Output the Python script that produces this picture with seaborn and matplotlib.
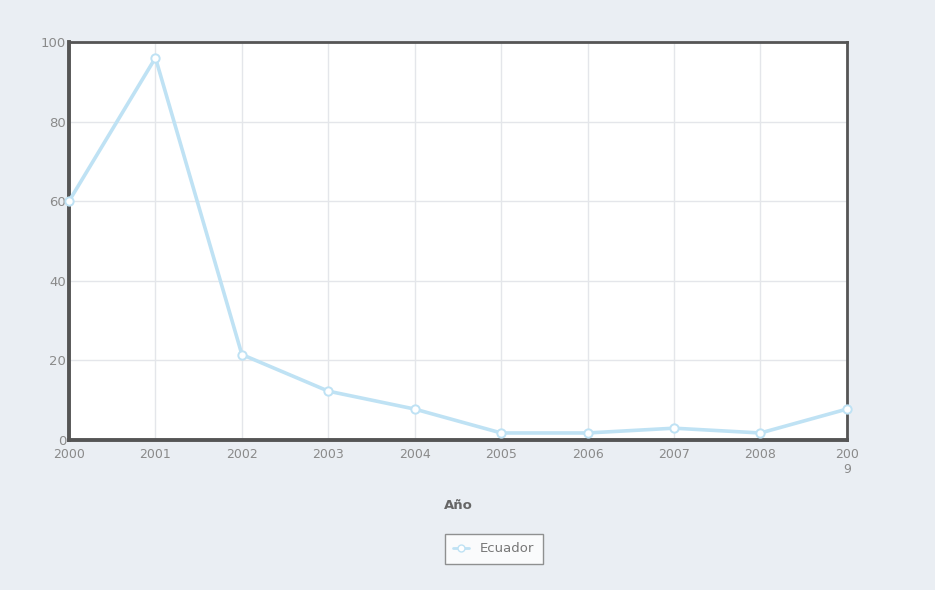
import matplotlib
matplotlib.use("Agg")
import matplotlib.pyplot as plt
import seaborn as sns
import pandas as pd
from matplotlib.lines import Line2D

# Series values
years = [2000, 2001, 2002, 2003, 2004, 2005, 2006, 2007, 2008, 2009]
ecuador = [60, 96, 21.5, 12.3, 7.8, 1.8, 1.8, 3.0, 1.8, 7.8]
tick_labels = ["2000", "2001", "2002", "2003", "2004", "2005", "2006", "2007", "2008", "200\n9"]
y_ticks = [0, 20, 40, 60, 80, 100]

sns.set_theme(style="white")
plt.rcParams["font.family"] = ["DejaVu Sans"]

df = pd.DataFrame({"Año": years, "Ecuador": ecuador})

fig = plt.figure(figsize=(9.35, 5.9), dpi=100)
fig.patch.set_facecolor("#eaeef3")
ax = fig.add_axes([0.0738, 0.254, 0.832, 0.675])
ax.set_facecolor("white")

line_color = "#bfe2f4"
sns.lineplot(data=df, x="Año", y="Ecuador", ax=ax, color=line_color,
             linewidth=2.6, marker="o", markersize=6,
             markerfacecolor="white", markeredgecolor=line_color,
             markeredgewidth=1.4, clip_on=False, zorder=3)

ax.set_xlim(2000, 2009)
ax.set_ylim(0, 100)
ax.set_xticks(years)
ax.set_xticklabels(tick_labels, color="#8a8a8a", fontsize=9, va="top")
ax.set_yticks(y_ticks)
ax.set_yticklabels([str(v) for v in y_ticks], color="#8a8a8a", fontsize=9.5)
ax.tick_params(axis="both", length=0, pad=2)
ax.tick_params(axis="x", pad=6)

ax.grid(True, color="#e4e6ea", linewidth=1.0)
ax.set_axisbelow(True)
for side in ["left", "bottom", "top", "right"]:
    ax.spines[side].set_visible(True)
    ax.spines[side].set_color("#555555")
ax.spines["left"].set_linewidth(2.8)
ax.spines["bottom"].set_linewidth(2.8)
ax.spines["top"].set_linewidth(2.0)
ax.spines["right"].set_linewidth(2.0)

ax.set_ylabel("")
ax.set_xlabel("Año", fontsize=9.5, fontweight="bold", color="#666666", labelpad=16)

handle = Line2D([0], [0], color=line_color, linewidth=2, marker="o",
                markersize=5, markerfacecolor="white", markeredgecolor=line_color)
leg = fig.legend([handle], ["Ecuador"], loc="center", bbox_to_anchor=(0.528, 0.070),
                 frameon=True, fontsize=9.5, handlelength=1.2, handletextpad=0.8,
                 borderpad=0.65, fancybox=False)
leg.get_frame().set_edgecolor("#777777")
leg.get_frame().set_facecolor("white")
leg.get_frame().set_linewidth(1.0)
for t in leg.get_texts():
    t.set_color("#777777")

fig.savefig("out.png", dpi=100, facecolor=fig.get_facecolor())
